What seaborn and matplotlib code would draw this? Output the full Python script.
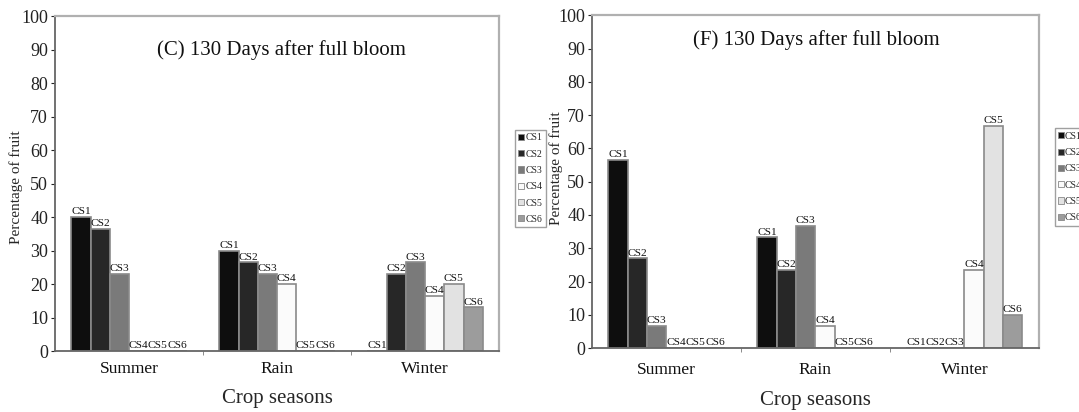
import matplotlib
matplotlib.use("Agg")
import matplotlib.pyplot as plt
import pandas as pd
import seaborn as sns
from matplotlib.patches import Patch

# Categories
seasons = ["Summer", "Rain", "Winter"]
stages = ["CS1", "CS2", "CS3", "CS4", "CS5", "CS6"]

# Panel (C): percentage of fruit per stage, by season
c_summer = [40, 36.5, 23, 0, 0, 0]
c_rain = [30, 26.5, 23, 20, 0, 0]
c_winter = [0, 23, 26.5, 16.5, 20, 13]

# Panel (F): percentage of fruit per stage, by season
f_summer = [56.5, 27, 6.8, 0, 0, 0]
f_rain = [33.3, 23.5, 36.7, 6.8, 0, 0]
f_winter = [0, 0, 0, 23.5, 66.7, 10]

stage_colors = ["#0e0e0e", "#272727", "#7a7a7a", "#fbfbfb", "#e2e2e2", "#9c9c9c"]

sns.set_style("white")
plt.rcParams["font.family"] = ["Liberation Serif", "DejaVu Serif"]


def long_frame(summer, rain, winter):
    rows = []
    for season, vals in zip(seasons, [summer, rain, winter]):
        for st, v in zip(stages, vals):
            rows.append({"season": season, "stage": st, "pct": v})
    return pd.DataFrame(rows)


def draw_panel(ax, df, title, title_xy, ylabel_xy, xtick_pad, xlabel_pad):
    sns.barplot(data=df, x="season", y="pct", hue="stage", order=seasons,
                hue_order=stages, palette=stage_colors, width=0.78, gap=0,
                edgecolor="#8a8a8a", linewidth=1.2, errorbar=None,
                legend=False, ax=ax)
    for st, cont in zip(stages, ax.containers):
        ax.bar_label(cont, labels=[st] * len(cont), padding=0.5,
                     fontsize=8.2, color="#111111")
    ax.set_ylim(0, 100)
    ax.set_xlim(-0.5, 2.5)
    ax.set_yticks(range(0, 101, 10))
    ax.tick_params(axis="y", labelsize=13, length=3, direction="out",
                   left=True, pad=2, colors="#222222")
    ax.tick_params(axis="x", labelsize=12.5, length=0, pad=xtick_pad,
                   colors="#111111")
    ax.set_xticks([0.5, 1.5], minor=True)
    ax.tick_params(axis="x", which="minor", length=3, bottom=True,
                   color="#777777")
    ax.set_xlabel("Crop seasons", fontsize=15, labelpad=xlabel_pad)
    ax.set_ylabel("Percentage of fruit", fontsize=11)
    ax.yaxis.set_label_coords(*ylabel_xy)
    for side in ["left", "bottom"]:
        ax.spines[side].set_color("#666666")
        ax.spines[side].set_linewidth(1.3)
    for side in ["top", "right"]:
        ax.spines[side].set_color("#b0b0b0")
        ax.spines[side].set_linewidth(1.6)
    ax.text(title_xy[0], title_xy[1], title, transform=ax.transAxes,
            ha="center", va="center", fontsize=15, color="#111111")
    handles = [Patch(facecolor=c, edgecolor="#888888", linewidth=0.6)
               for c in stage_colors]
    ax.legend(handles, stages, loc="upper left", bbox_to_anchor=(1.036, 0.66),
              fontsize=7, handlelength=0.55, handleheight=0.6,
              handletextpad=0.15, labelspacing=0.75, borderpad=0.35,
              borderaxespad=0, frameon=True, fancybox=False,
              edgecolor="#888888")


fig = plt.figure(figsize=(10.79, 4.12), dpi=100)
ax_c = fig.add_axes([0.051, 0.148, 0.4115, 0.813])
ax_f = fig.add_axes([0.5487, 0.155, 0.414, 0.808])

draw_panel(ax_c, long_frame(c_summer, c_rain, c_winter),
           "(C) 130 Days after full bloom", (0.51, 0.90),
           (-0.072, 0.49), 7, 9)
draw_panel(ax_f, long_frame(f_summer, f_rain, f_winter),
           "(F) 130 Days after full bloom", (0.503, 0.925),
           (-0.065, 0.54), 10, 9)

fig.savefig("out.png", dpi=100, facecolor="white")
